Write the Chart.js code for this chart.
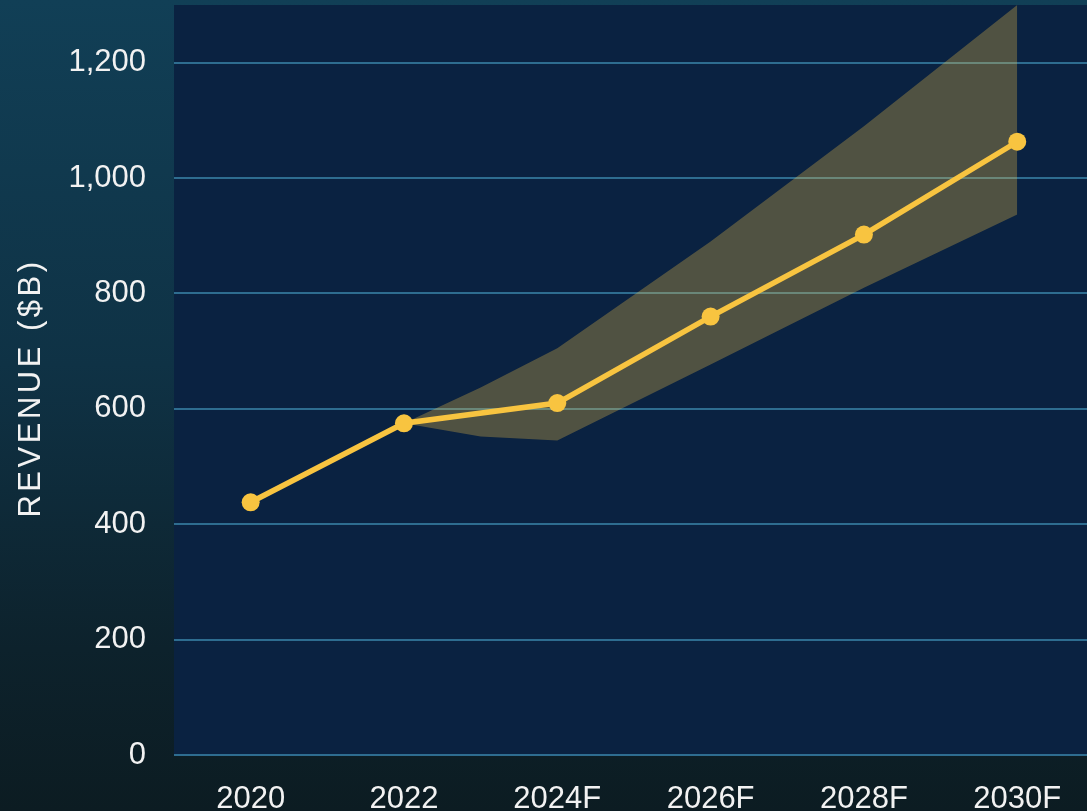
<!DOCTYPE html>
<html lang="en">
<head>
    <meta charset="UTF-8">
    <title>Revenue Forecast</title>
    <script src="https://cdn.jsdelivr.net/npm/chart.js"></script>
    <style>
        html, body {
            margin: 0;
            padding: 0;
            overflow: hidden;
        }
        body {
            width: 1087px;
            height: 811px;
            background: linear-gradient(to bottom, #113f56 0%, #0f3245 45%, #0d222c 80%, #0c1c22 100%);
            font-family: "Liberation Sans", Arial, sans-serif;
        }
        .chart-box {
            position: relative;
            width: 1087px;
            height: 811px;
        }
    </style>
</head>
<body>
    <div class="chart-box">
        <canvas id="revenueChart"></canvas>
    </div>

    <script>
        // Actual + forecast revenue ($B)
        const years = [2020, 2022, 2024, 2026, 2028, 2030];
        const xTickLabels = ['2020', '2022', '2024F', '2026F', '2028F', '2030F'];
        const revenue = [438, 575, 610, 760, 902, 1063];

        // Forecast range (shaded band)
        const bandYears = [2022, 2023, 2024, 2026, 2028, 2030];
        const bandHigh = [575, 637, 705, 890, 1090, 1300];
        const bandLow = [575, 552, 545, 677, 810, 937];

        const yTicks = [0, 200, 400, 600, 800, 1000, 1200];
        const yTitle = 'REVENUE ($B)';

        const toPoints = (xs, ys) => xs.map((x, i) => ({ x: x, y: ys[i] }));

        const textColor = '#f2f2f2';
        const fontFamily = '"Liberation Sans", Arial, sans-serif';
        const tickFont = { family: fontFamily, size: 31 };

        // paint the plot area navy
        const plotBackground = {
            id: 'plotBackground',
            beforeDraw(chart) {
                const { ctx, chartArea } = chart;
                ctx.save();
                ctx.fillStyle = '#0a2241';
                ctx.fillRect(chartArea.left, chartArea.top,
                    chartArea.right - chartArea.left, chartArea.bottom - chartArea.top);
                ctx.restore();
            }
        };

        // y title drawn by hand so it can be letter-spaced
        const spacedTitle = {
            id: 'spacedTitle',
            afterDraw(chart) {
                const { ctx } = chart;
                ctx.save();
                ctx.font = '31px ' + fontFamily;
                ctx.letterSpacing = '3.5px';
                ctx.fillStyle = textColor;
                ctx.textAlign = 'center';
                ctx.textBaseline = 'middle';
                ctx.translate(31, 390);
                ctx.rotate(-Math.PI / 2);
                ctx.fillText(yTitle, 2, 0);
                ctx.restore();
            }
        };

        const noPadding = scale => {
            scale.paddingTop = 0;
            scale.paddingBottom = 0;
            scale.paddingLeft = 0;
            scale.paddingRight = 0;
        };

        new Chart(document.getElementById('revenueChart'), {
            type: 'line',
            data: {
                datasets: [
                    {
                        label: 'Revenue',
                        data: toPoints(years, revenue),
                        borderColor: '#f8c440',
                        backgroundColor: '#f8c440',
                        borderWidth: 5.5,
                        pointRadius: 9,
                        pointBorderWidth: 0,
                        pointHoverRadius: 9,
                        fill: false,
                        order: 0
                    },
                    {
                        label: 'High',
                        data: toPoints(bandYears, bandHigh),
                        borderWidth: 0,
                        pointRadius: 0,
                        fill: false,
                        order: 1
                    },
                    {
                        label: 'Low',
                        data: toPoints(bandYears, bandLow),
                        borderWidth: 0,
                        pointRadius: 0,
                        fill: { target: 1 },
                        backgroundColor: 'rgba(245, 196, 70, 0.3)',
                        order: 1
                    }
                ]
            },
            options: {
                responsive: true,
                maintainAspectRatio: false,
                animation: false,
                layout: {
                    autoPadding: false,
                    padding: { top: 5, right: 0, left: 0, bottom: 0 }
                },
                plugins: {
                    legend: { display: false },
                    tooltip: { enabled: false }
                },
                scales: {
                    x: {
                        type: 'linear',
                        min: 2019,
                        max: 2030.91,
                        grid: { display: false },
                        border: { display: false },
                        afterBuildTicks: scale => {
                            scale.ticks = years.map(v => ({ value: v }));
                        },
                        afterFit: scale => {
                            scale.height = 56;
                            noPadding(scale);
                        },
                        ticks: {
                            color: textColor,
                            font: tickFont,
                            padding: 18,
                            maxRotation: 0,
                            autoSkip: false,
                            callback: value => xTickLabels[years.indexOf(value)]
                        }
                    },
                    y: {
                        min: 0,
                        max: 1300,
                        afterBuildTicks: scale => {
                            scale.ticks = yTicks.map(v => ({ value: v }));
                        },
                        afterFit: scale => {
                            scale.width = 174;
                            noPadding(scale);
                        },
                        grid: {
                            color: '#2e6d90',
                            lineWidth: 2,
                            drawTicks: false
                        },
                        border: { display: false },
                        ticks: {
                            color: textColor,
                            font: tickFont,
                            padding: 28,
                            callback: value => value.toLocaleString('en-US')
                        }
                    }
                }
            },
            plugins: [plotBackground, spacedTitle]
        });
    </script>
</body>
</html>
